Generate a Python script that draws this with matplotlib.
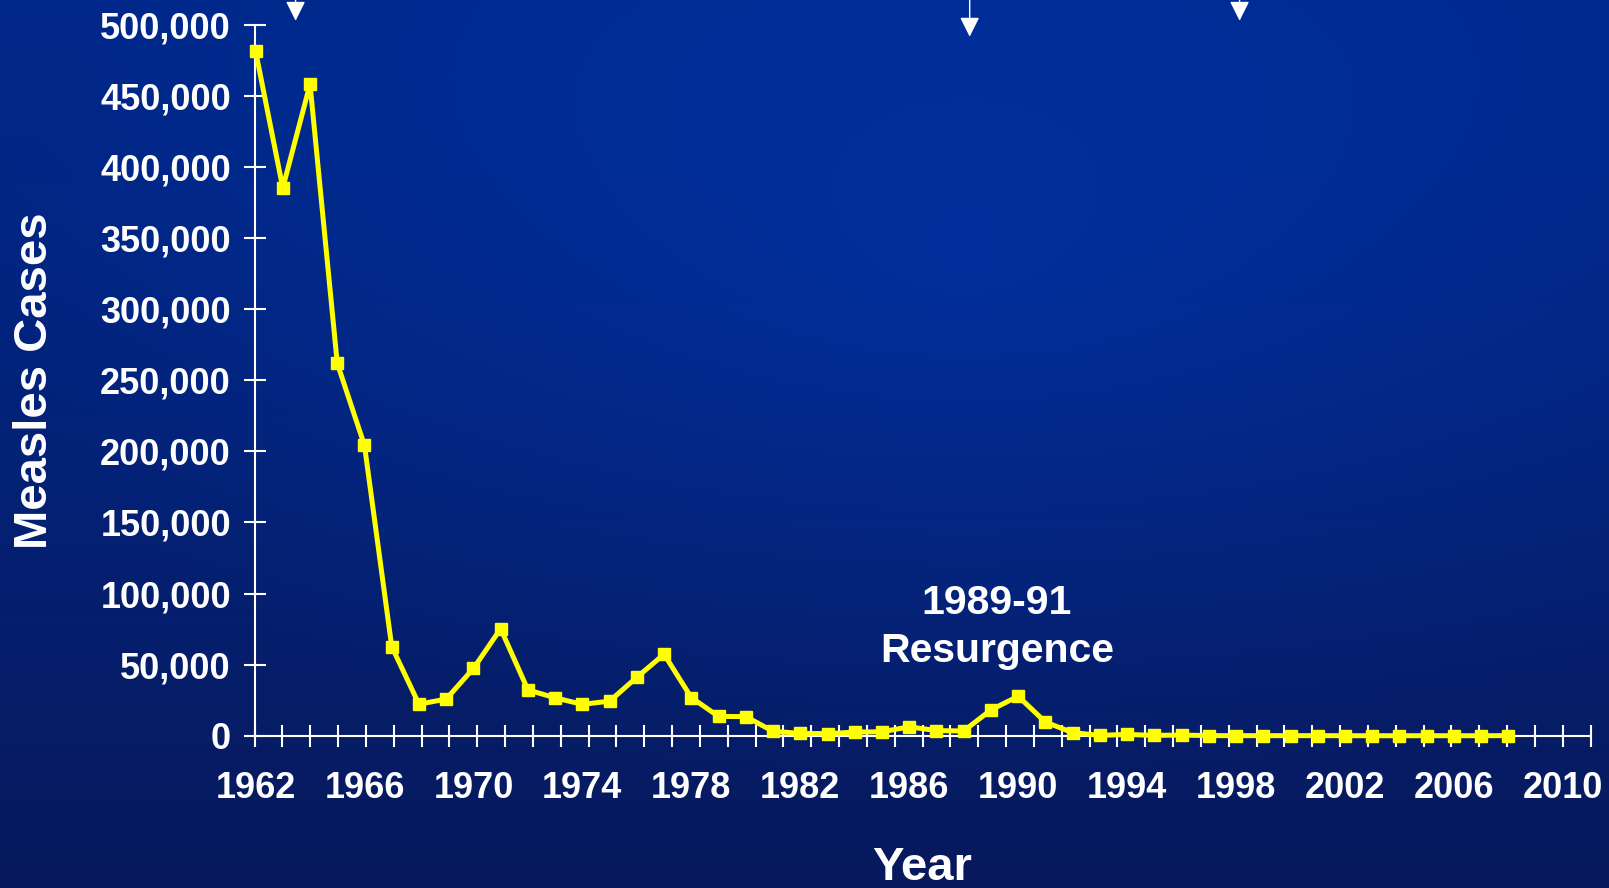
import numpy as np
import matplotlib
matplotlib.use("Agg")
import matplotlib.pyplot as plt

years = list(range(1962, 2009))
cases = [481530, 385156, 458083, 261904, 204136, 62705, 22231, 25826, 47351, 75290,
         32275, 26690, 22094, 24374, 41126, 57345, 26871, 13597, 13506, 3124,
         1714, 1497, 2587, 2822, 6282, 3655, 3396, 18193, 27786, 9643,
         2237, 312, 963, 309, 508, 138, 100, 100, 86, 116,
         44, 56, 37, 66, 55, 43, 140]
label_years = list(range(1962, 2011, 4))
y_ticks = list(range(0, 500001, 50000))
arrow_years = [1963.47, 1988.22, 1998.13]
arrow_tips = [502700, 491500, 502700]
annot_text = "1989-91\nResurgence"
annot_pos = (1989.22, 76500)

plt.rcParams['font.family'] = ['Liberation Sans', 'DejaVu Sans']
plt.rcParams['font.weight'] = 'bold'

fig = plt.figure(figsize=(16.09, 8.88), dpi=100)

# background gradient
bg = fig.add_axes([0, 0, 1, 1])
bg.set_axis_off()
h, w = 200, 360
yy, xx = np.mgrid[0:1:h*1j, 0:1:w*1j]
top = np.array([0x00, 0x28, 0x8a]) / 255.0
bot = np.array([0x08, 0x19, 0x5c]) / 255.0
t = yy[..., None] ** 1.3
img = top * (1 - t) + bot * t
r = np.sqrt(((xx - 0.6) / 0.6) ** 2 + ((yy - 0.3) / 0.6) ** 2)
glow = np.clip(1 - r, 0, 1)[..., None]
img = img + glow * (np.array([0x00, 0x0a, 0x1c]) / 255.0)
bg.imshow(np.clip(img, 0, 1), aspect='auto', extent=[0, 1, 0, 1], interpolation='bilinear')
bg.set_xlim(0, 1); bg.set_ylim(0, 1)

ax = fig.add_axes([0.1582, 0.1714, 0.9886 - 0.1582, 0.9723 - 0.1714])
ax.patch.set_alpha(0)
ax.plot(years, cases, color='#ffff00', lw=3.6, marker='s', ms=8.5,
        mec='#ffff00', mfc='#ffff00', clip_on=False, zorder=5)

# category-style axis: tick marks spaced slightly wider than the data points
xmin, xmax = 1961.963, 2011.02
ax.set_xlim(xmin, xmax)
ax.set_ylim(0, 500000)
step = (xmax - xmin) / 48
ax.set_xticks([xmin + k * step for k in range(49)], minor=True)
ax.set_xticks(label_years)
ax.set_xticklabels([str(y) for y in label_years])
ax.set_yticks(y_ticks)
ax.set_yticklabels([f"{v:,}" for v in y_ticks])

for s in ['top', 'right']:
    ax.spines[s].set_visible(False)
for s in ['left', 'bottom']:
    ax.spines[s].set_color('white')
    ax.spines[s].set_linewidth(1.5)
ax.tick_params(axis='both', which='both', direction='inout', width=1.5, colors='white')
ax.tick_params(axis='x', which='minor', length=16)
ax.tick_params(axis='x', which='major', length=0, pad=25, labelsize=26)
ax.tick_params(axis='y', which='major', length=16, pad=9, labelsize=26)
for lab in ax.get_xticklabels() + ax.get_yticklabels():
    lab.set_fontweight('bold')

ax.set_ylabel('Measles Cases', color='white', fontsize=34, fontweight='bold', labelpad=31)
ax.set_xlabel('Year', color='white', fontsize=34, fontweight='bold', labelpad=29)

ax.text(annot_pos[0], annot_pos[1], annot_text, color='white', fontsize=29.5,
        fontweight='bold', ha='center', va='center', linespacing=1.35)

for xa, ya in zip(arrow_years, arrow_tips):
    ax.annotate('', xy=(xa, ya), xytext=(xa, 560000), xycoords='data',
                textcoords='data', annotation_clip=False,
                arrowprops=dict(arrowstyle='-|>,head_length=0.6,head_width=0.3',
                                mutation_scale=20, color='white', lw=1,
                                shrinkA=0, shrinkB=0))

fig.savefig('out.png', dpi=100)
